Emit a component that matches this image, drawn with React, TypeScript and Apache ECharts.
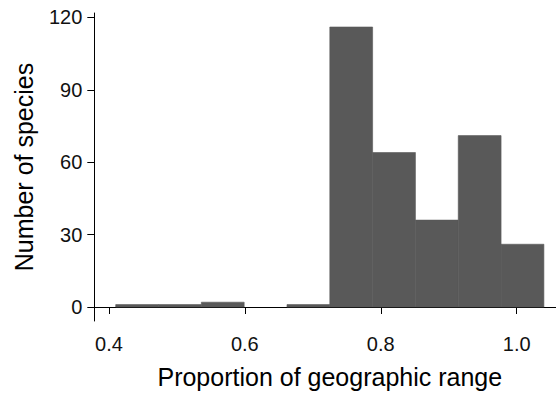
import React, { useEffect, useRef } from "react";
import * as echarts from "echarts";

// Histogram bins: edges (proportion of geographic range) and species counts per bin
const binEdges = [0.41, 0.473, 0.536, 0.599, 0.662, 0.725, 0.788, 0.851, 0.914, 0.977, 1.04];
const binCounts = [1, 1, 2, 0, 1, 116, 64, 36, 71, 26];

const xTicks = [0.4, 0.6, 0.8, 1.0];
const yTicks = [0, 30, 60, 90, 120];

const xTitle = "Proportion of geographic range";
const yTitle = "Number of species";

const FONT = "'Liberation Sans', Arial, Helvetica, sans-serif";
const BAR = "#595959";

export default function App() {
  const ref = useRef<HTMLDivElement>(null);

  useEffect(() => {
    document.body.style.margin = "0";
    if (!ref.current) return;
    const chart = echarts.init(ref.current, undefined, { renderer: "svg" });

    const bins = binCounts.map((c, i) => [binEdges[i], binEdges[i + 1], c]);

    const axisCommon = {
      axisLine: { show: true, lineStyle: { color: "#000", width: 1 } },
      axisTick: { show: true, length: 7, lineStyle: { color: "#000", width: 1 } },
      splitLine: { show: false },
    };

    chart.setOption({
      animation: false,
      backgroundColor: "#fff",
      // the panel runs past the right edge of the canvas
      grid: {
        left: 94.3,
        top: 13,
        right: -9.3,
        height: 308,
        containLabel: false,
        outerBoundsMode: "none",
      },
      xAxis: {
        type: "value",
        min: 0.3785,
        max: 1.0715,
        ...axisCommon,
        axisTick: { ...axisCommon.axisTick, customValues: xTicks },
        axisLabel: {
          customValues: xTicks,
          formatter: (v: number) => v.toFixed(1),
          fontFamily: FONT,
          fontSize: 20,
          color: "#111",
          margin: 13,
        },
        name: xTitle,
        nameLocation: "middle",
        nameGap: 43,
        nameTextStyle: { fontFamily: FONT, fontSize: 25, color: "#000" },
      },
      yAxis: {
        type: "value",
        min: -5.8,
        max: 121.8,
        ...axisCommon,
        axisTick: { ...axisCommon.axisTick, customValues: yTicks },
        axisLabel: {
          customValues: yTicks,
          fontFamily: FONT,
          fontSize: 20,
          color: "#111",
          margin: 12,
        },
        name: yTitle,
        nameLocation: "middle",
        nameGap: 58,
        nameTextStyle: { fontFamily: FONT, fontSize: 25, color: "#000" },
      },
      series: [
        {
          type: "custom",
          data: bins,
          encode: { x: [0, 1], y: 2 },
          renderItem: (params: any, api: any) => {
            const x0 = api.value(0);
            const x1 = api.value(1);
            const c = api.value(2);
            if (!c) return null;
            const p0 = api.coord([x0, c]);
            const p1 = api.coord([x1, 0]);
            return {
              type: "rect",
              shape: { x: p0[0], y: p0[1], width: p1[0] - p0[0], height: p1[1] - p0[1] },
              style: { fill: BAR, stroke: BAR, lineWidth: 0.6 },
            };
          },
        },
      ],
    });

    return () => chart.dispose();
  }, []);

  return <div ref={ref} style={{ width: 556, height: 396 }} />;
}
